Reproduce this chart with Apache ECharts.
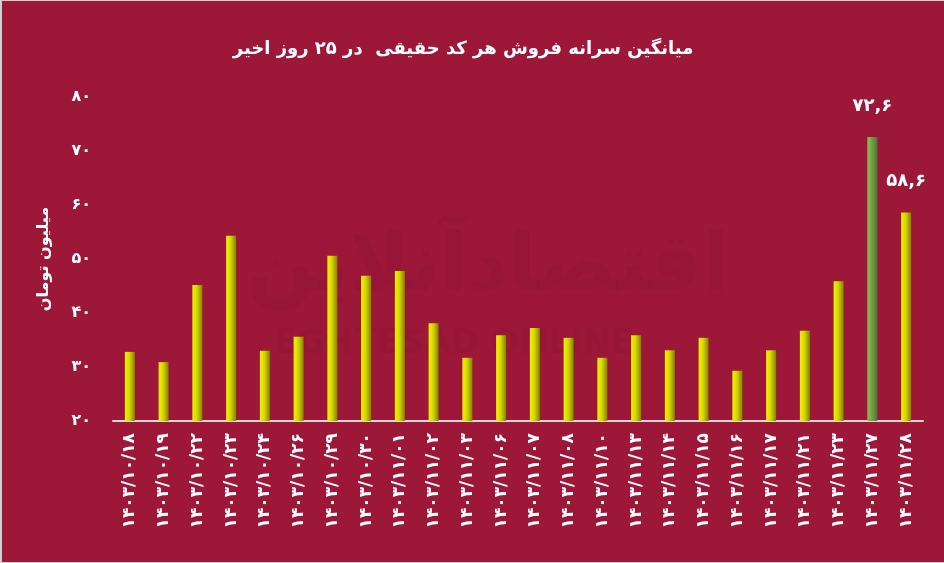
<!DOCTYPE html>
<html>
<head>
<meta charset="utf-8">
<script src="https://cdn.jsdelivr.net/npm/echarts@6/dist/echarts.min.js"></script>
<style>
html,body{margin:0;padding:0;background:#fff;}
#c{width:942px;height:561px;border-left:2px solid #d0d0d0;border-top:1px solid #d0d0d0;border-right:0;border-bottom:1px solid #d0d0d0;background:#9d1739;}
</style>
</head>
<body>
<div id="c"></div>
<script>
var titleText = 'میانگین سرانه فروش هر کد حقیقی  در ۲۵ روز اخیر';
var yAxisName = 'میلیون تومان';
var categories = ['۱۴۰۳/۱۰/۱۸','۱۴۰۳/۱۰/۱۹','۱۴۰۳/۱۰/۲۲','۱۴۰۳/۱۰/۲۳','۱۴۰۳/۱۰/۲۴','۱۴۰۳/۱۰/۲۶','۱۴۰۳/۱۰/۲۹','۱۴۰۳/۱۰/۳۰','۱۴۰۳/۱۱/۰۱','۱۴۰۳/۱۱/۰۲','۱۴۰۳/۱۱/۰۳','۱۴۰۳/۱۱/۰۶','۱۴۰۳/۱۱/۰۷','۱۴۰۳/۱۱/۰۸','۱۴۰۳/۱۱/۱۰','۱۴۰۳/۱۱/۱۳','۱۴۰۳/۱۱/۱۴','۱۴۰۳/۱۱/۱۵','۱۴۰۳/۱۱/۱۶','۱۴۰۳/۱۱/۱۷','۱۴۰۳/۱۱/۲۱','۱۴۰۳/۱۱/۲۳','۱۴۰۳/۱۱/۲۷','۱۴۰۳/۱۱/۲۸'];
var values = [32.8, 30.9, 45.2, 54.3, 33.0, 35.6, 50.6, 46.9, 47.8, 38.1, 31.7, 35.9, 37.2, 35.4, 31.7, 35.9, 33.1, 35.4, 29.3, 33.1, 36.7, 45.9, 72.6, 58.6];
var labelledIndex = [22, 23];
var highlightIndex = 22;
var yTicks = {min: 20, max: 80, interval: 10};

function toPersian(s){
  return String(s).replace(/[0-9]/g, function(d){ return '۰۱۲۳۴۵۶۷۸۹'[+d]; }).replace('.', ',');
}

var yellowGrad = new echarts.graphic.LinearGradient(0,0,1,0,[{offset:0,color:'#f4f400'},{offset:0.45,color:'#d6d600'},{offset:1,color:'#828200'}]);
var greenGrad = new echarts.graphic.LinearGradient(0,0,1,0,[{offset:0,color:'#93c052'},{offset:0.5,color:'#6f9d45'},{offset:1,color:'#4c7636'}]);

var seriesData = values.map(function(v,i){
  var d = {value: v, itemStyle: {color: i === highlightIndex ? greenGrad : yellowGrad}};
  if (labelledIndex.indexOf(i) >= 0) {
    d.label = {show: true, position: 'top', distance: 22, formatter: function(p){ return toPersian(p.value); }, color: '#fff', fontSize: 18, fontWeight: 'bold', fontFamily: 'DejaVu Sans'};
  }
  return d;
});

var chart = echarts.init(document.getElementById('c'));
chart.setOption({
  backgroundColor: '#9d1739',
  animation: false,
  title: {
    text: titleText, left: 456, top: 34, textAlign: 'center',
    textStyle: {color: '#fff', fontSize: 18, fontWeight: 'bold', fontFamily: 'DejaVu Sans'}
  },
  graphic: [
    {type: 'text', left: 245, top: 228, z: -1, silent: true,
     style: {text: 'اقتصادآنلاین', fill: 'rgba(60,0,20,0.06)', font: 'bold 80px "DejaVu Sans"'}},
    {type: 'text', left: 272, top: 326, z: -1, silent: true,
     style: {text: 'EGHTESAD ONLINE', fill: 'rgba(60,0,20,0.06)', font: 'bold 34px "DejaVu Sans"'}}
  ],
  grid: {left: 111, right: 21, top: 96, bottom: 141, containLabel: false},
  xAxis: {
    type: 'category', data: categories,
    axisLine: {lineStyle: {color: '#d8d8d8', width: 2}},
    axisTick: {show: false},
    axisLabel: {rotate: 90, interval: 0, color: '#fff', fontSize: 17, fontWeight: 'bold', fontFamily: 'DejaVu Sans', margin: 12, formatter: function(v){ return '\u200E' + v; }}
  },
  yAxis: {
    type: 'value', min: yTicks.min, max: yTicks.max, interval: yTicks.interval,
    name: yAxisName, nameLocation: 'middle', nameGap: 61, nameRotate: 90,
    nameTextStyle: {color: '#fff', fontSize: 16, fontWeight: 'bold', fontFamily: 'DejaVu Sans'},
    axisLine: {show: false}, axisTick: {show: false}, splitLine: {show: false},
    axisLabel: {color: '#fff', fontSize: 16, fontWeight: 'bold', fontFamily: 'DejaVu Sans', margin: 22, formatter: function(v){ return toPersian(v); }}
  },
  series: [{
    type: 'bar', data: seriesData, barWidth: 10
  }]
});
</script>
</body>
</html>
